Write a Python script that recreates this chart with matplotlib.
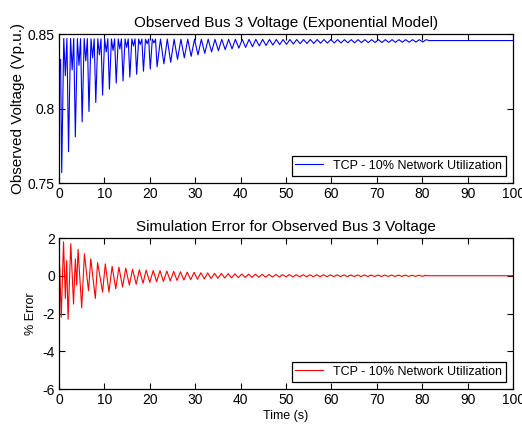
import matplotlib
matplotlib.use('Agg')
import matplotlib.pyplot as plt

# ─── DATOS: voltaje observado (extremos de cada oscilación) ───────────────────
V_INICIO_T = [0.0, 0.15, 0.35]
V_INICIO   = [0.846, 0.826, 0.833]

V_VALLE_T = [0.6, 2.1, 3.6, 5.1, 6.6, 8.1, 9.6, 11.1, 12.6, 14.1,
             15.6, 17.1, 18.6, 20.1, 21.6, 23.1, 24.6, 26.1, 27.6, 29.1,
             30.6, 32.1, 33.6, 35.1, 36.6, 38.1, 39.6, 41.1, 42.6, 44.1,
             45.6, 47.1, 48.6, 50.1, 51.6, 53.1, 54.6, 56.1, 57.6, 59.1,
             60.6, 62.1, 63.6, 65.1, 66.6, 68.1, 69.6, 71.1, 72.6, 74.1,
             75.6, 77.1, 78.6, 80.1]
V_VALLE = [0.757, 0.771, 0.781, 0.791, 0.798, 0.804, 0.809, 0.813, 0.817, 0.8185,
           0.821, 0.823, 0.825, 0.8265, 0.828, 0.830, 0.831, 0.833, 0.834, 0.835,
           0.836, 0.837, 0.838, 0.8388, 0.8395, 0.840, 0.8405, 0.841, 0.8415, 0.842,
           0.8423, 0.8426, 0.8429, 0.8431, 0.8433, 0.8435, 0.8436, 0.8437, 0.8438, 0.8439,
           0.844, 0.844, 0.8441, 0.8441, 0.8442, 0.8442, 0.8443, 0.8443, 0.8444, 0.8444,
           0.8445, 0.8445, 0.8446, 0.8446]
V_PICO = [0.847, 0.847, 0.8469, 0.8469, 0.8468, 0.8468, 0.8468, 0.8467, 0.8467, 0.8467,
          0.8467, 0.8466, 0.8466, 0.8466, 0.8466, 0.8466, 0.8465, 0.8465, 0.8465, 0.8465,
          0.8465, 0.8465, 0.8464, 0.8464, 0.8464, 0.8464, 0.8464, 0.8464, 0.8464, 0.8464,
          0.8463, 0.8463, 0.8463, 0.8463, 0.8463, 0.8463, 0.8463, 0.8463, 0.8463, 0.8463,
          0.8462, 0.8462, 0.8462, 0.8462, 0.8462, 0.8462, 0.8462, 0.8462, 0.8462, 0.8462,
          0.8462, 0.8462, 0.8462, 0.8462]
# muesca secundaria en los primeros ciclos
V_MUESCA = [0.822, 0.826, 0.829, 0.832, 0.834, 0.836, 0.838, 0.839, 0.840, 0.841,
            0.842, 0.843, 0.8435, 0.844]
V_FINAL_T = [81.5, 100.0]
V_FINAL   = [0.8456, 0.8456]

# ─── DATOS: error de simulación (%) ───────────────────────────────────────────
E_INICIO_T = [0, 0.15, 0.5, 1.0, 1.4, 1.7, 2.0, 2.6, 3.2, 3.6,
              3.9, 4.2, 5.0, 5.6, 6.5, 7.0, 8.0, 8.5, 9.6, 10.2,
              11.0, 11.7, 12.5, 13.2, 14.0, 14.7, 15.5, 16.2, 17.0, 17.7,
              18.5, 19.2]
E_INICIO = [-5.2, 0.5, -2.2, 1.8, -1.2, 0.8, -2.3, 1.7, -1.5, 0.9,
            -0.5, 1.4, -1.7, 1.16, -0.8, 0.9, -1.2, 0.7, -0.87, 0.63,
            -0.87, 0.5, -0.69, 0.45, -0.6, 0.4, -0.5, 0.35, -0.45, 0.32,
            -0.4, 0.3]
E_CICLO_T = [20.0, 21.5, 23.0, 24.5, 26.0, 27.5, 29.0, 30.5, 32.0, 33.5,
             35.0, 36.5, 38.0, 39.5, 41.0, 42.5, 44.0, 45.5, 47.0, 48.5,
             50.0, 51.5, 53.0, 54.5, 56.0, 57.5, 59.0, 60.5, 62.0, 63.5,
             65.0, 66.5, 68.0, 69.5, 71.0, 72.5, 74.0, 75.5, 77.0, 78.5,
             80.0]
E_BAJO = [-0.35, -0.32, -0.30, -0.28, -0.25, -0.23, -0.21, -0.19, -0.17, -0.15,
          -0.14, -0.12, -0.11, -0.10, -0.09, -0.085, -0.08, -0.075, -0.07, -0.065,
          -0.06, -0.06, -0.055, -0.055, -0.05, -0.05, -0.05, -0.045, -0.045, -0.045,
          -0.04, -0.04, -0.04, -0.04, -0.04, -0.035, -0.035, -0.035, -0.035, -0.03,
          -0.03]
E_ALTO = [0.28, 0.27, 0.25, 0.23, 0.21, 0.19, 0.18, 0.16, 0.15, 0.13,
          0.12, 0.11, 0.10, 0.09, 0.085, 0.08, 0.075, 0.07, 0.065, 0.06,
          0.06, 0.055, 0.055, 0.05, 0.05, 0.05, 0.045, 0.045, 0.045, 0.04,
          0.04, 0.04, 0.04, 0.04, 0.035, 0.035, 0.035, 0.035, 0.03, 0.03,
          0.03]
E_FINAL_T = [80.8, 100.0]
E_FINAL   = [0.0, 0.0]

LEYENDA = 'TCP - 10% Network Utilization'

# ─── ARMADO DE LAS SERIES ─────────────────────────────────────────────────────
tv, vv = list(V_INICIO_T), list(V_INICIO)
for i, t in enumerate(V_VALLE_T):
    tv.append(t); vv.append(V_VALLE[i])
    if i < len(V_MUESCA):
        tv += [t + 0.45, t + 0.8, t + 1.15]
        vv += [V_PICO[i], V_MUESCA[i], V_PICO[i]]
    else:
        tv.append(t + 0.75); vv.append(V_PICO[i])
tv += V_FINAL_T; vv += V_FINAL

te, ve = list(E_INICIO_T), list(E_INICIO)
for i, t in enumerate(E_CICLO_T):
    te += [t, t + 0.75]
    ve += [E_BAJO[i], E_ALTO[i]]
te += E_FINAL_T; ve += E_FINAL

# ─── GRÁFICA ──────────────────────────────────────────────────────────────────
plt.rcParams['font.family'] = ['Liberation Sans', 'DejaVu Sans']
plt.rcParams['axes.unicode_minus'] = False

fig = plt.figure(figsize=(5.22, 4.25), dpi=100)
ax1 = fig.add_axes([0.113, 0.5694, 0.870, 0.3506])
ax2 = fig.add_axes([0.113, 0.0847, 0.870, 0.3553])

ax1.plot(tv, vv, color='#0000ff', linewidth=0.8, label=LEYENDA)
ax1.set_xlim(0, 100)
ax1.set_ylim(0.75, 0.85)
ax1.set_yticks([0.75, 0.8, 0.85])
ax1.set_yticklabels(['0.75', '0.8', '0.85'])
ax1.set_title('Observed Bus 3 Voltage (Exponential Model)', fontsize=11, pad=5)
ax1.set_ylabel('Observed Voltage (Vp.u.)', fontsize=11, labelpad=2)

ax2.plot(te, ve, color='#ff0000', linewidth=0.8, label=LEYENDA)
ax2.set_xlim(0, 100)
ax2.set_ylim(-6, 2)
ax2.set_yticks([-6, -4, -2, 0, 2])
ax2.set_title('Simulation Error for Observed Bus 3 Voltage', fontsize=11, pad=5)
ax2.set_ylabel('% Error', fontsize=9, labelpad=4)
ax2.set_xlabel('Time (s)', fontsize=9, labelpad=2)

for ax in (ax1, ax2):
    ax.set_xticks(range(0, 101, 10))
    ax.tick_params(direction='in', top=True, right=True, length=4,
                   width=0.8, labelsize=10, pad=3)
    for s in ax.spines.values():
        s.set_linewidth(0.9)
    leg = ax.legend(loc='lower right', fontsize=9, fancybox=False,
                    framealpha=1, edgecolor='black', borderaxespad=0.6,
                    handlelength=2.2, borderpad=0.3)
    leg.get_frame().set_linewidth(0.9)

plt.savefig('out.png', dpi=100)
plt.close()
